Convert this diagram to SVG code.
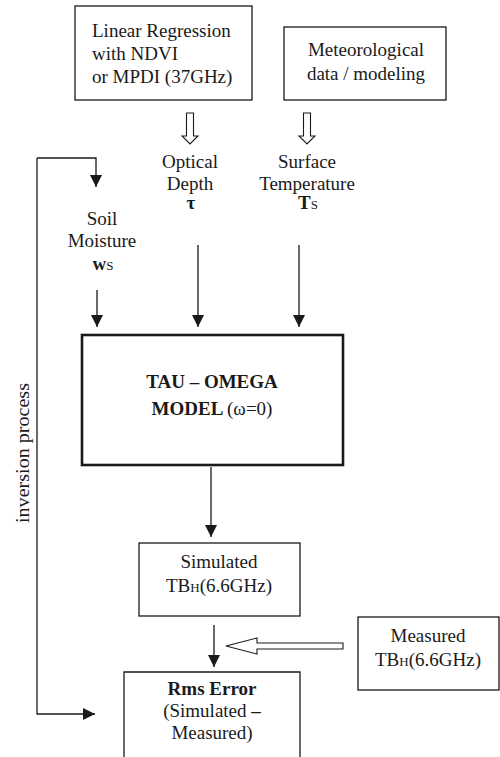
<svg xmlns="http://www.w3.org/2000/svg" width="500" height="757" viewBox="0 0 500 757">
<style>
text{font-family:"Liberation Serif","Times New Roman",serif;font-size:19px;fill:#1a1a1a}
.c{text-anchor:middle}
.b{font-weight:bold}
.sub{font-size:13px}
.box{fill:#fff;stroke:#1a1a1a;stroke-width:1.3}
.thick{fill:#fff;stroke:#1a1a1a;stroke-width:2.6}
.ln{fill:none;stroke:#1a1a1a;stroke-width:1.3}
.hollow{fill:#fff;stroke:#1a1a1a;stroke-width:1.1}
</style>
<defs>
<marker id="ah" markerUnits="userSpaceOnUse" markerWidth="13" markerHeight="13" refX="12" refY="6" orient="auto">
<path d="M0,0 L12,6 L0,12 z" fill="#1a1a1a"/>
</marker>
</defs>
<rect width="500" height="757" fill="#fff"/>

<g id="linreg">
<rect class="box" x="75" y="6" width="177" height="94"/>
<text x="92" y="37">Linear Regression</text>
<text x="92" y="60">with NDVI</text>
<text x="92" y="83">or MPDI (37GHz)</text>
</g>

<g id="meteo">
<rect class="box" x="284" y="27" width="162" height="73"/>
<text class="c" x="366" y="56">Meteorological</text>
<text class="c" x="366" y="80">data / modeling</text>
</g>

<g id="optical">
<text class="c" x="190" y="168">Optical</text>
<text class="c" x="190" y="190">Depth</text>
<text class="c b" x="191" y="209">τ</text>
</g>

<g id="surface">
<text class="c" x="307" y="168">Surface</text>
<text class="c" x="307" y="190">Temperature</text>
<text class="c" x="308" y="209"><tspan class="b">T</tspan><tspan class="sub">S</tspan></text>
</g>

<g id="soil">
<text class="c" x="102" y="225">Soil</text>
<text class="c" x="102" y="247">Moisture</text>
<text class="c" x="103" y="270"><tspan class="b">w</tspan><tspan class="sub">S</tspan></text>
</g>

<g id="tau">
<rect class="thick" x="82" y="335" width="261" height="130"/>
<text class="c b" x="212" y="388">TAU – OMEGA</text>
<text class="c" x="212" y="415"><tspan class="b">MODEL </tspan>(ω=0)</text>
</g>

<g id="simulated">
<rect class="box" x="139" y="543" width="161" height="73"/>
<text class="c" x="219" y="568">Simulated</text>
<text class="c" x="219" y="592">TB<tspan class="sub">H</tspan>(6.6GHz)</text>
</g>

<g id="measured">
<rect class="box" x="358" y="617" width="141" height="73"/>
<text class="c" x="428" y="642">Measured</text>
<text class="c" x="428" y="666">TB<tspan class="sub">H</tspan>(6.6GHz)</text>
</g>

<g id="rms">
<path class="box" d="M124,760 V672 H300 V760"/>
<text class="c b" x="212" y="695">Rms Error</text>
<text class="c" x="212" y="717">(Simulated <tspan class="b">–</tspan></text>
<text class="c" x="212" y="739">Measured)</text>
</g>

<g id="inversion">
<text class="c" transform="translate(29,453) rotate(-90)" textLength="140" lengthAdjust="spacingAndGlyphs">inversion process</text>
</g>

<g id="connectors">
<polygon class="hollow" points="186.5,113 193.5,113 193.5,136 198,136 190,144 182,136 186.5,136"/>
<polygon class="hollow" points="303.5,113 310.5,113 310.5,136 315,136 307,144 299,136 303.5,136"/>
<polygon class="hollow" points="343,643 257,643 257,638 226,646 257,654 257,649 343,649"/>
<path class="ln" d="M37,158 H96 V187" marker-end="url(#ah)"/>
<path class="ln" d="M37,158 V714 H95" marker-end="url(#ah)"/>
<path class="ln" d="M97,290 V327" marker-end="url(#ah)"/>
<path class="ln" d="M198,245 V327" marker-end="url(#ah)"/>
<path class="ln" d="M299,245 V327" marker-end="url(#ah)"/>
<path class="ln" d="M211,467 V537" marker-end="url(#ah)"/>
<path class="ln" d="M214,625 V667" marker-end="url(#ah)"/>
</g>
</svg>
